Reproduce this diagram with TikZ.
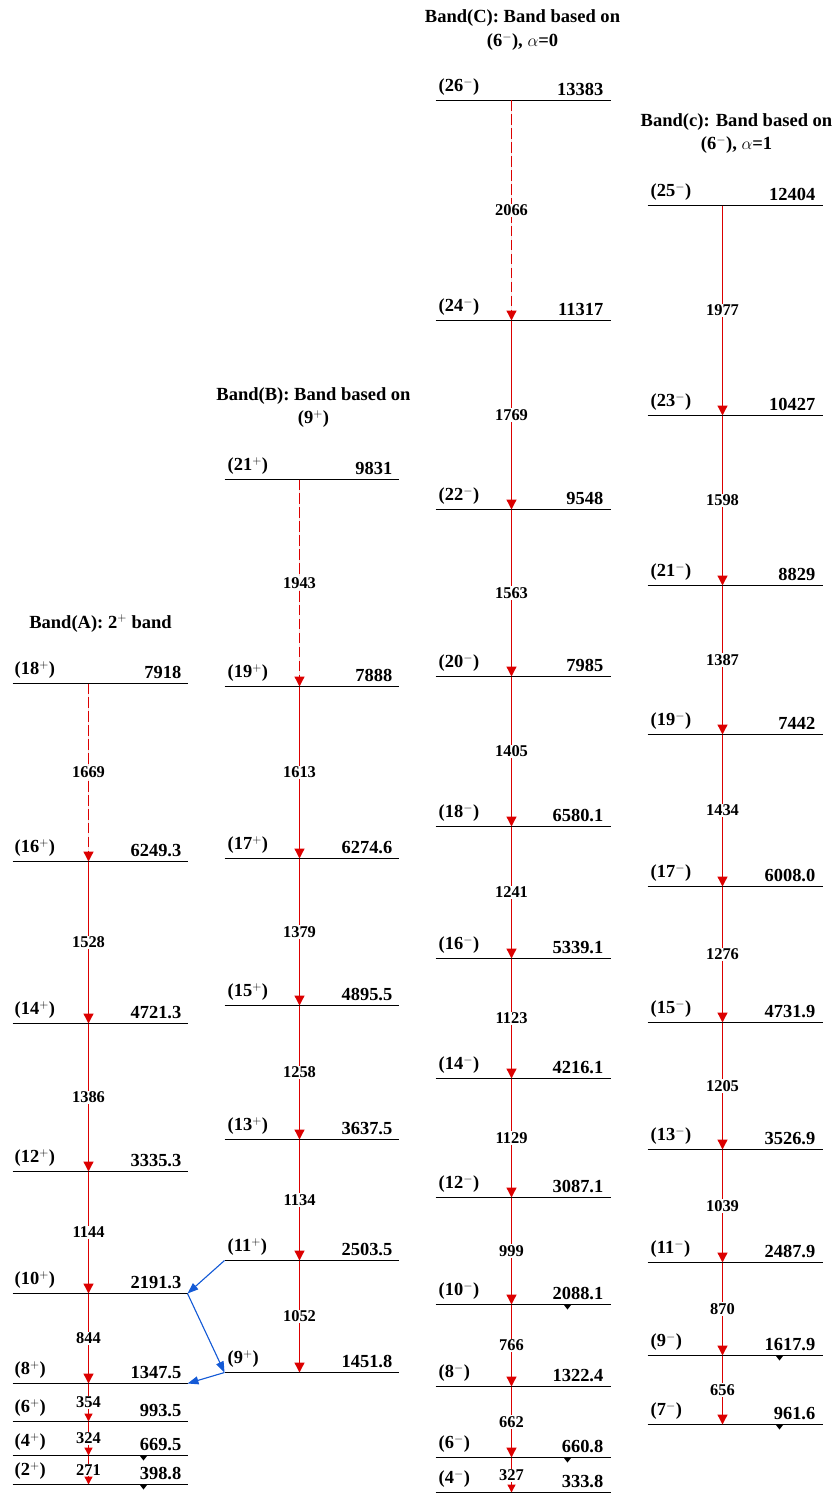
\documentclass[tikz,border=0pt]{standalone}
\usepackage{amsmath}
\usepackage{fontspec}
\setmainfont{Liberation Serif}
\usepackage{xcolor}
\usetikzlibrary{arrows.meta}

\definecolor{gred}{RGB}{220,0,0}
\definecolor{gblue}{RGB}{20,90,214}

\begin{document}
\begin{tikzpicture}[x=1bp, y=-1bp,
    lvl/.style={line width=1.1bp},
    gam/.style={draw=gred, fill=gred, line width=1.3bp, -{Triangle[length=10pt,width=10pt]}},
    gams/.style={gam, -{Triangle[length=8pt,width=8pt]}},
    gamd/.style={gam, dash pattern=on 10.5pt off 3.5pt},
    link/.style={draw=gblue, fill=gblue, line width=1.1bp, -{Triangle[length=11pt,width=8pt]}},
    eg/.style={fill=white, inner sep=1pt, font=\bfseries\fontsize{16.5}{16.5}\selectfont},
    spin/.style={anchor=base west, inner sep=0pt, font=\bfseries\fontsize{18.5}{18.5}\selectfont},
    en/.style={anchor=base east, inner sep=0pt, font=\bfseries\fontsize{18.5}{18.5}\selectfont},
    ttl/.style={align=center, font=\bfseries\fontsize{18.6}{24}\selectfont}]
    \useasboundingbox (0,0) rectangle (835,1493);

    \begin{scope}[shift={(0.5,0.5)}]
    % band titles
    \node[ttl] (tA) at (100,623) {Band(A): 2$^{+}$ band};
    \node[ttl] (tB) at (313,407) {Band(B): Band based on\\(9$^{+}$)};
    \node[ttl] (tC) at (522,30) {Band(C): Band based on\\(6$^{-}$), $\alpha$=0};
    \node[ttl] (tc) at (736,133) {Band(c): Band based on\\(6$^{-}$), $\alpha$=1};

    % band A
    \foreach \n/\y/\e in {18/683/7918, 16/861/6249.3, 14/1023/4721.3, 12/1171/3335.3, 10/1293/2191.3,
        8/1383/1347.5, 6/1421/993.5, 4/1455/669.5, 2/1484/398.8} {
        \draw[lvl] (12,\y) -- (187,\y);
        \node[spin] (sA\n) at (14,\y-9) {(\n$^{+}$)};
        \node[en] (eA\n) at (181,\y-5) {\e};
        \coordinate (A\n) at (88,\y);
        \coordinate (A\n e) at (187,\y);
    }
    % band B
    \foreach \n/\y/\e in {21/479/9831, 19/686/7888, 17/858/6274.6, 15/1005/4895.5, 13/1139/3637.5,
        11/1260/2503.5, 9/1372/1451.8} {
        \draw[lvl] (224,\y) -- (398,\y);
        \node[spin] (sB\n) at (227,\y-9) {(\n$^{+}$)};
        \node[en] (eB\n) at (392,\y-5) {\e};
        \coordinate (B\n) at (299,\y);
        \coordinate (B\n w) at (224,\y);
    }
    % band C
    \foreach \n/\y/\e in {26/100/13383, 24/320/11317, 22/509/9548, 20/676/7985, 18/826/6580.1,
        16/958/5339.1, 14/1078/4216.1, 12/1197/3087.1, 10/1304/2088.1, 8/1386/1322.4,
        6/1457/660.8, 4/1492/333.8} {
        \draw[lvl] (435,\y) -- (610,\y);
        \node[spin] (sC\n) at (438,\y-9) {(\n$^{-}$)};
        \node[en] (eC\n) at (603,\y-5) {\e};
        \coordinate (C\n) at (511,\y);
    }
    % band c
    \foreach \n/\y/\e in {25/205/12404, 23/415/10427, 21/585/8829, 19/734/7442, 17/886/6008.0,
        15/1022/4731.9, 13/1149/3526.9, 11/1262/2487.9, 9/1355/1617.9, 7/1424/961.6} {
        \draw[lvl] (647,\y) -- (822,\y);
        \node[spin] (sc\n) at (650,\y-9) {(\n$^{-}$)};
        \node[en] (ec\n) at (815,\y-5) {\e};
        \coordinate (c\n) at (722,\y);
    }

    % small marks under the lowest levels
    \foreach \x/\y in {143/1455, 143/1484, 567/1304, 567/1457, 567/1492, 779/1355, 779/1424}
        \fill (\x-3.5,\y+0.5) -- (\x+3.5,\y+0.5) -- (\x,\y+5) -- cycle;

    % gamma transitions
    \draw[gamd] (A18) -- (A16) node[midway, eg] {1669};
    \foreach \a/\b/\g in {16/14/1528, 14/12/1386, 12/10/1144, 10/8/844}
        \draw[gam] (A\a) -- (A\b) node[midway, eg] {\g};
    \foreach \a/\b/\g in {8/6/354, 6/4/324, 4/2/271}
        \draw[gams] (A\a) -- (A\b) node[midway, eg] {\g};

    \draw[gamd] (B21) -- (B19) node[midway, eg] {1943};
    \foreach \a/\b/\g in {19/17/1613, 17/15/1379, 15/13/1258, 13/11/1134, 11/9/1052}
        \draw[gam] (B\a) -- (B\b) node[midway, eg] {\g};

    \draw[gamd] (C26) -- (C24) node[midway, eg] {2066};
    \foreach \a/\b/\g in {24/22/1769, 22/20/1563, 20/18/1405, 18/16/1241, 16/14/1123,
        14/12/1129, 12/10/999, 10/8/766, 8/6/662}
        \draw[gam] (C\a) -- (C\b) node[midway, eg] {\g};
    \draw[gams] (C6) -- (C4) node[midway, eg] {327};

    \foreach \a/\b/\g in {25/23/1977, 23/21/1598, 21/19/1387, 19/17/1434, 17/15/1276,
        15/13/1205, 13/11/1039, 11/9/870, 9/7/656}
        \draw[gam] (c\a) -- (c\b) node[midway, eg] {\g};

    % links between A and B
    \draw[link] (B11w) -- (A10e);
    \draw[link] (A10e) -- (B9w);
    \draw[link] (B9w) -- (A8e);
    \end{scope}
\end{tikzpicture}
\end{document}
